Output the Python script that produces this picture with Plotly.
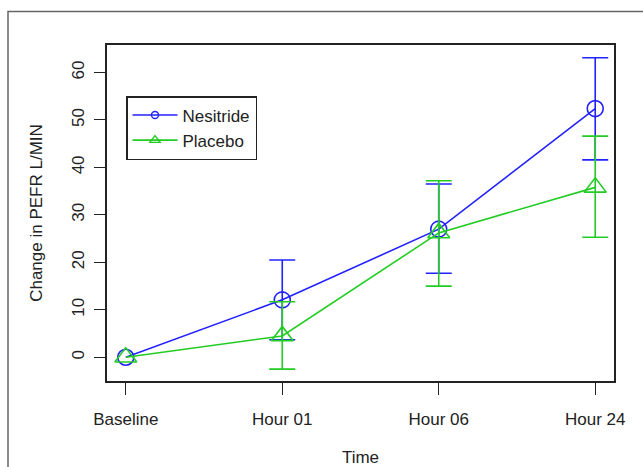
import plotly.graph_objects as go

categories = ["Baseline", "Hour 01", "Hour 06", "Hour 24"]
nesitride = [0, 12.1, 27.0, 52.4]
nesitride_lo = [None, 3.7, 17.7, 41.6]
nesitride_hi = [None, 20.5, 36.5, 63.1]
placebo = [0, 4.5, 26.2, 35.8]
placebo_lo = [None, -2.5, 15.0, 25.3]
placebo_hi = [None, 11.7, 37.2, 46.6]
y_ticks = [0, 10, 20, 30, 40, 50, 60]

BLUE = "#2222ff"
GREEN = "#22cc22"
FONT = "Liberation Sans, Arial, sans-serif"

W, H = 643, 467
L, R, T, B = 107, 29, 45, 86
pw, ph = W - L - R, H - T - B


def px_x(p):
    return (p - L) / pw


def px_y(p):
    return (H - B - p) / ph


fig = go.Figure()


def add_series(name, vals, lo, hi, color, symbol, msize, lsize):
    fig.add_trace(go.Scatter(x=categories, y=vals, mode="lines", line=dict(color=color, width=1.6),
                             showlegend=False, hoverinfo="skip"))
    xs, ys, up, dn = [], [], [], []
    for c, v, l_, h_ in zip(categories, vals, lo, hi):
        if l_ is None:
            continue
        xs.append(c); ys.append(v); up.append(h_ - v); dn.append(v - l_)
    fig.add_trace(go.Scatter(x=xs, y=ys, mode="markers", marker=dict(size=0.1, color=color, opacity=0),
                             error_y=dict(type="data", symmetric=False, array=up, arrayminus=dn,
                                          color=color, thickness=1.6, width=13),
                             showlegend=False, hoverinfo="skip"))
    fig.add_trace(go.Scatter(x=categories, y=vals, mode="markers",
                             marker=dict(symbol=symbol + "-open", size=msize, color=color,
                                         line=dict(width=1.6, color=color)),
                             showlegend=False))
    fig.add_trace(go.Scatter(x=[None], y=[None], mode="lines+markers", name=name,
                             line=dict(color=color, width=1.6),
                             marker=dict(symbol=symbol + "-open", size=lsize, color=color,
                                         line=dict(width=1.4, color=color))))


add_series("Nesitride", nesitride, nesitride_lo, nesitride_hi, BLUE, "circle", 16, 7)
add_series("Placebo", placebo, placebo_lo, placebo_hi, GREEN, "triangle-up", 19, 9)

fig.update_layout(
    template="none",
    width=W, height=H, autosize=False,
    margin=dict(l=L, r=R, t=T, b=B),
    paper_bgcolor="white", plot_bgcolor="white",
    font=dict(family=FONT, size=17, color="#222"),
    legend=dict(x=px_x(126), y=px_y(96), xanchor="left", yanchor="top",
                bordercolor="#222", borderwidth=1.5, bgcolor="white",
                font=dict(size=17), tracegroupgap=0, itemwidth=45),
    xaxis=dict(type="category", range=[-0.12, 3.12], showgrid=False, zeroline=False, automargin=False,
               showline=True, linecolor="#222", linewidth=1.5, mirror=True,
               ticks="outside", ticklen=12, tickcolor="#222", tickwidth=1.2,
               tickfont=dict(size=17), ticklabelstandoff=10,
               title=dict(text="Time", font=dict(size=17), standoff=29)),
    yaxis=dict(range=[-5, 65.8], tickvals=y_ticks, showgrid=False, zeroline=False, automargin=False,
               showline=True, linecolor="#222", linewidth=1.5, mirror=True,
               ticks="outside", ticklen=11, tickcolor="#222", tickwidth=1.2,
               tickangle=-90, tickfont=dict(size=17), ticklabelstandoff=3,
               title=dict(text="Change in PEFR L/MIN", font=dict(size=17), standoff=23)),
    shapes=[dict(type="path", xref="paper", yref="paper",
                 path=f"M {px_x(8)},{px_y(470)} L {px_x(8)},{px_y(11.5)} L {px_x(646)},{px_y(11.5)}",
                 line=dict(color="#666", width=1.5))],
)

fig.write_html("out.html", config={"responsive": False, "displayModeBar": False},
               post_script="document.body.style.margin='0';document.body.style.overflow='hidden';")
